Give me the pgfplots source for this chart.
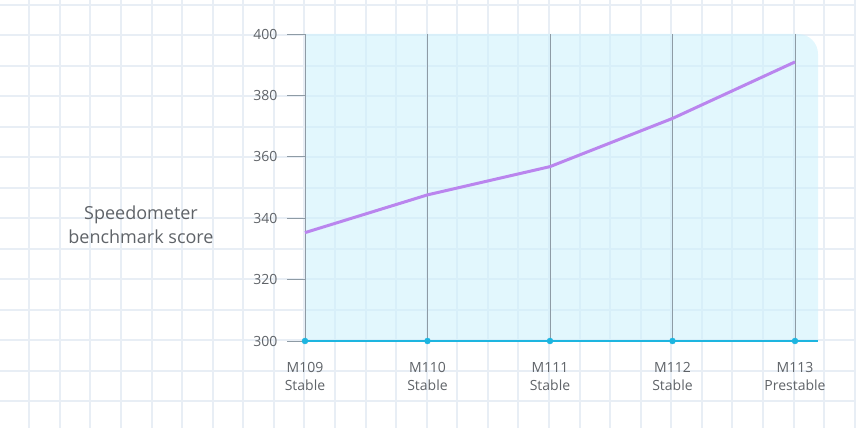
\documentclass[border=0pt]{standalone}
\usepackage{pgfplots}
\pgfplotsset{compat=1.18}
\usepackage{fontspec}
\setmainfont{Open Sans}
\definecolor{gridbg}{HTML}{E8EEF5}
\definecolor{shadecol}{RGB}{206,241,252}
\definecolor{txt}{HTML}{5F6368}
\definecolor{vline}{HTML}{8E9BA5}
\definecolor{cyanax}{HTML}{1DB5E0}
\definecolor{purp}{HTML}{BA85EE}
\begin{document}
\begin{tikzpicture}[x=1pt,y=1pt]
\path[use as bounding box] (0,0) rectangle (856,428);
\foreach \k in {0,...,27} { \draw[gridbg, line width=2pt] ({29.3+30.57*\k},0) -- ({29.3+30.57*\k},428); }
\foreach \k in {0,...,13} { \draw[gridbg, line width=2pt] (0,{428-5-30.5*\k}) -- (856,{428-5-30.5*\k}); }
\fill[fill=shadecol, fill opacity=0.6] (305,87) -- (305,394) -- (798,394) arc[start angle=90,end angle=0,radius=20] -- (818,87) -- cycle;
\node[txt, align=center, font=\fontsize{18}{24}\selectfont] at (141,203) {Speedometer\\benchmark score};
\begin{axis}[at={(305pt,87pt)}, anchor=south west, scale only axis,
  width=513pt, height=307pt, xmin=0, xmax=4.1878, ymin=300, ymax=400,
  clip=false,
  axis x line=bottom, axis y line=left,
  x axis line style={draw=cyanax, line width=2.5pt, -},
  y axis line style={draw=vline, line width=0.9pt, -},
  xtick={0,1,2,3,4},
  xticklabels={{M109\\Stable},{M110\\Stable},{M111\\Stable},{M112\\Stable},{M113\\Prestable}},
  xticklabel style={align=center, text=txt, font=\fontsize{14}{18}\selectfont, yshift=0pt},
  x tick style={draw=none},
  major x tick style={draw=none},
  xmajorgrids, x grid style={draw=vline, line width=0.9pt},
  ytick={300,320,...,400},
  y tick style={draw=vline, line width=0.9pt},
  major tick length=18pt,
  tick align=outside,
  yticklabel style={text=txt, font=\fontsize{14}{17}\selectfont, xshift=-6pt},
  /pgf/number format/assume math mode=true,
]
\addplot[purp, line width=3pt] coordinates {(0,335.3) (1,347.6) (2,356.8) (3,372.5) (4,390.9)};
\addplot[only marks, mark=*, mark size=3pt, cyanax] coordinates {(0,300) (1,300) (2,300) (3,300) (4,300)};
\end{axis}
\end{tikzpicture}
\end{document}
